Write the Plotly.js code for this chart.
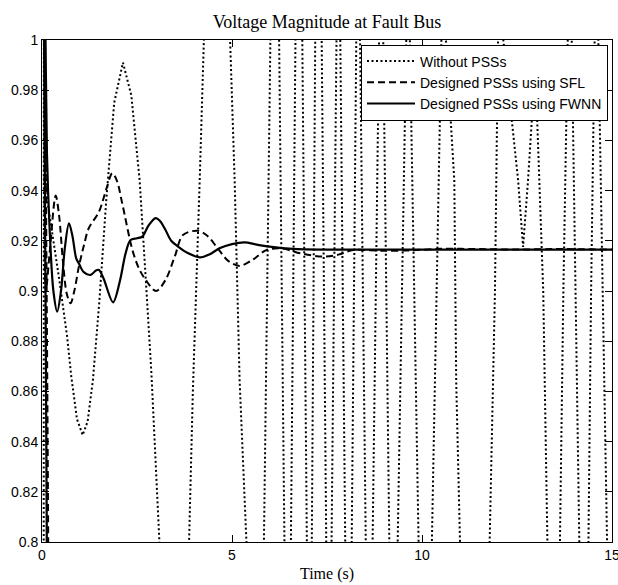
<!DOCTYPE html>
<html>
<head>
<meta charset="utf-8">
<script src="https://cdn.plot.ly/plotly-3.0.1.min.js"></script>
<style>html,body{margin:0;padding:0;background:#fff;}#chart{width:618px;height:585px;}</style>
</head>
<body>
<div id="chart"></div>
<script>
// ---- Data ----
const seriesNames = ['Without PSSs', 'Designed PSSs using SFL', 'Designed PSSs using FWNN'];

// Without PSSs (unstable, leaves the 0.8-1.0 window)
const tWithout = [0, 0.04, 0.05, 0.10, 0.15, 0.22, 0.45, 0.66, 0.77, 0.92, 1.07, 1.20, 1.34, 1.51, 1.69, 1.90, 2.13, 2.35, 2.57, 2.75, 2.88, 3.09,
  3.45, 3.87, 3.97, 4.15, 4.26, 4.60, 4.95, 5.07, 5.20, 5.38, 5.61, 5.84, 6.01, 6.12, 6.24, 6.38, 6.46, 6.55, 6.67, 6.76, 6.85,
  6.97, 7.03, 7.10, 7.19, 7.27, 7.36, 7.48, 7.55, 7.62, 7.75, 7.80, 7.85, 7.98, 8.06, 8.15, 8.27, 8.32, 8.37, 8.52, 8.61, 8.70,
  8.87, 8.92, 8.98, 9.14, 9.25, 9.36, 9.57, 9.62, 9.68, 9.91, 10.08, 10.26, 10.51, 10.57, 10.63, 10.85, 10.90, 11.00, 11.39, 11.78,
  11.92, 12.00, 12.07, 12.14, 12.53, 12.66, 12.79, 12.98, 13.19, 13.30, 13.46, 13.63, 13.72, 13.81, 13.87, 13.94, 14.04, 14.14,
  14.26, 14.38, 14.45, 14.51, 14.57, 14.64, 14.87, 15.00];
const vWithout = [0.50, 0.50, 1.06, 0.955, 0.935, 0.928, 0.905, 0.882, 0.866, 0.849, 0.8426, 0.848, 0.8645, 0.896, 0.936, 0.975, 0.991, 0.978, 0.944, 0.900, 0.867, 0.800,
  0.720, 0.800, 0.860, 0.944, 1.000, 1.080, 1.000, 0.944, 0.8645, 0.800, 0.720, 0.800, 1.000, 1.060, 1.000, 0.800, 0.740, 0.800, 1.000, 1.060, 1.000,
  0.800, 0.760, 0.800, 1.000, 1.060, 1.000, 0.800, 0.760, 0.800, 1.000, 1.030, 1.000, 0.800, 0.760, 0.800, 1.000, 1.030, 1.000, 0.800, 0.760, 0.800,
  1.000, 1.030, 1.000, 0.800, 0.750, 0.800, 1.000, 1.030, 1.000, 0.800, 0.720, 0.800, 1.000, 1.030, 1.000, 0.944, 0.864, 0.800, 0.700, 0.800,
  0.900, 1.000, 1.020, 1.000, 0.944, 0.9176, 0.944, 0.990, 0.900, 0.800, 0.740, 0.800, 0.900, 1.000, 1.030, 1.000, 0.900, 0.800,
  0.750, 0.800, 0.900, 1.000, 1.030, 1.000, 0.800, 0.740];

// Designed PSSs using SFL
const tSFL = [0, 0.04, 0.05, 0.07, 0.10, 0.20, 0.36, 0.45, 0.55, 0.65, 0.75, 0.85, 0.97, 1.10, 1.23, 1.50, 1.70, 1.85, 1.97, 2.11, 2.38, 2.55, 2.73,
  3.00, 3.25, 3.50, 3.71, 4.10, 4.35, 4.59, 4.90, 5.20, 5.55, 5.90, 6.30, 6.80, 7.40, 7.80, 8.19, 9.00, 9.70, 10.50, 11.50, 12.50, 13.50, 15.00];
const vSFL = [0.55, 0.55, 1.05, 1.02, 0.900, 0.915, 0.938, 0.930, 0.912, 0.899, 0.8951, 0.900, 0.9097, 0.918, 0.925, 0.9316, 0.941, 0.9469, 0.944, 0.935, 0.9163, 0.909, 0.9044,
  0.900, 0.9044, 0.914, 0.9223, 0.924, 0.922, 0.9177, 0.912, 0.910, 0.9125, 0.9163, 0.917, 0.915, 0.9137, 0.9145, 0.9163, 0.9160, 0.9162, 0.9168, 0.9167, 0.9165, 0.9167, 0.9165];

// Designed PSSs using FWNN
const tFWNN = [0, 0.03, 0.04, 0.08, 0.13, 0.20, 0.30, 0.40, 0.50, 0.60, 0.71, 0.80, 0.90, 0.97, 1.10, 1.28, 1.42, 1.50, 1.62, 1.87, 2.05, 2.20, 2.33,
  2.50, 2.64, 2.80, 2.99, 3.10, 3.25, 3.40, 3.58, 3.85, 4.15, 4.40, 4.67, 5.00, 5.33, 5.65, 5.99, 6.60, 7.50, 15.00];
const vFWNN = [0.45, 0.45, 1.06, 1.02, 0.955, 0.925, 0.900, 0.8918, 0.900, 0.917, 0.927, 0.922, 0.913, 0.911, 0.9075, 0.9064, 0.9082, 0.9084, 0.905, 0.8955, 0.904, 0.915, 0.9203,
  0.921, 0.9217, 0.926, 0.929, 0.928, 0.9243, 0.920, 0.9177, 0.915, 0.9134, 0.9145, 0.917, 0.9187, 0.9194, 0.9185, 0.9177, 0.9168, 0.9165, 0.9165];

// Axis ticks
const xTicks = [0, 5, 10, 15];
const yTicks = [0.8, 0.82, 0.84, 0.86, 0.88, 0.9, 0.92, 0.94, 0.96, 0.98, 1];

// ---- Traces ----
const traces = [
  {x: tWithout, y: vWithout, name: seriesNames[0], type: 'scatter', mode: 'lines',
   line: {color: '#000', width: 2, dash: '2px,2.5px', shape: 'linear'}},
  {x: tSFL, y: vSFL, name: seriesNames[1], type: 'scatter', mode: 'lines',
   line: {color: '#000', width: 2, dash: '7px,4px', shape: 'spline', smoothing: 0.9}},
  {x: tFWNN, y: vFWNN, name: seriesNames[2], type: 'scatter', mode: 'lines',
   line: {color: '#000', width: 2.2, dash: 'solid', shape: 'spline', smoothing: 0.9}}
];

const tickFont = {family: 'Liberation Sans, Arial, sans-serif', size: 14, color: '#000'};
const serif = 'Liberation Serif, Times New Roman, serif';

const axisCommon = {
  ticks: 'inside', ticklen: 7, tickwidth: 1, tickcolor: '#000',
  showline: true, linecolor: '#000', linewidth: 1, mirror: 'allticks',
  showgrid: false, zeroline: false, tickfont: tickFont, fixedrange: true,
  ticklabeloverflow: 'allow'
};

const layout = {
  width: 618, height: 585,
  margin: {l: 42, r: 6, t: 40, b: 43, pad: 0},
  paper_bgcolor: '#fff', plot_bgcolor: '#fff',
  title: {text: 'Voltage Magnitude at Fault Bus', font: {family: serif, size: 18, color: '#000'},
          x: 0.5, xref: 'paper', xanchor: 'center', y: 1 - 21.5 / 585, yref: 'container', yanchor: 'middle'},
  xaxis: Object.assign({}, axisCommon, {range: [0, 15], tickmode: 'array', tickvals: xTicks,
          title: {text: 'Time (s)', font: {family: serif, size: 16, color: '#000'}, standoff: 6}}),
  yaxis: Object.assign({}, axisCommon, {range: [0.8, 1], tickmode: 'array', tickvals: yTicks}),
  showlegend: true,
  legend: {x: 0.993, y: 0.991, xanchor: 'right', yanchor: 'top', bgcolor: '#fff', bordercolor: '#000', borderwidth: 1,
           font: {family: 'Liberation Sans, Arial, sans-serif', size: 14, color: '#000'}, itemwidth: 48,
           tracegroupgap: 0}
};

Plotly.newPlot('chart', traces, layout, {displayModeBar: false, staticPlot: true});
</script>
</body>
</html>
